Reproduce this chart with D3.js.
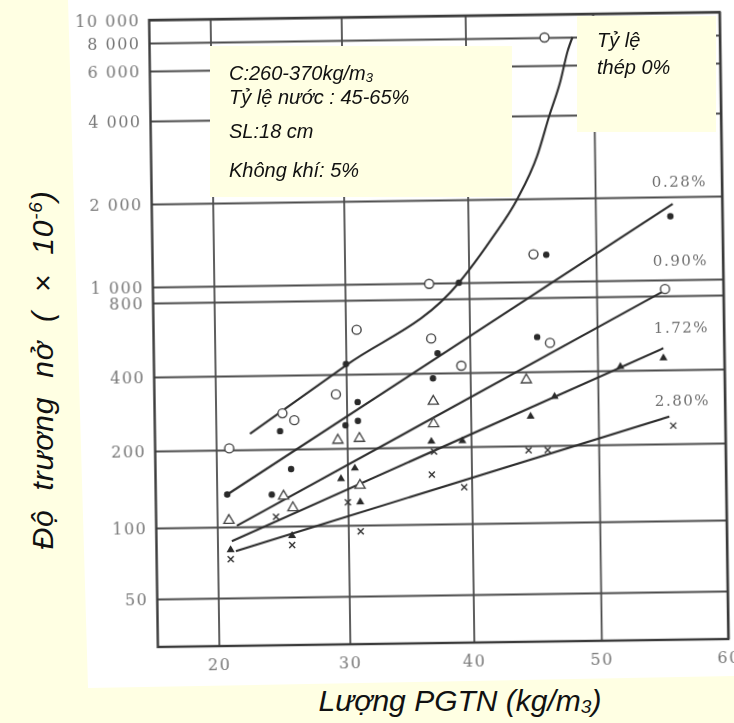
<!DOCTYPE html>
<html>
<head>
<meta charset="utf-8">
<script src="https://cdn.jsdelivr.net/npm/d3@7"></script>
<style>
  html, body { margin: 0; padding: 0; background: #FFFFE3; }
  svg { display: block; }
</style>
</head>
<body>
<svg id="chart" width="734" height="723"></svg>
<script>
// Độ trương nở theo lượng PGTN, với các tỷ lệ thép khác nhau

// trục hoành: lượng PGTN (kg/m3)
const xTicks = [20, 30, 40, 50, 60];
const xTickLabels = ["20", "30", "40", "50", "60"];
// trục tung: độ trương nở (×10^-6), thang logarit
const yTicks = [50, 100, 200, 400, 800, 1000, 2000, 4000, 6000, 8000, 10000];
const yTickLabels = ["50", "100", "200", "400", "800", "1 000", "2 000", "4 000", "6 000", "8 000", "10 000"];

// đường cong cho tỷ lệ thép 0%
const curve0X = [22.6, 30, 39.2, 41.8, 43.9, 45.5, 46.5, 47.4, 48.0, 48.4];
const curve0Y = [232, 435, 1000, 1430, 2000, 2860, 4000, 5270, 6930, 8000];

// đường thẳng cho các tỷ lệ thép còn lại (điểm đầu, điểm cuối)
const steelRatios = ["0.28%", "0.90%", "1.72%", "2.80%"];
const fitX = [[20.8, 56.1], [21.5, 55.6], [21.1, 55.2], [21.4, 55.6]];
const fitY = [[134, 1885], [101, 880], [87, 490], [79, 258]];

// điểm thí nghiệm, theo ký hiệu
const openCircles = [[21.0, 203], [25.1, 280], [26.0, 262], [29.2, 332], [30.9, 606], [36.8, 990],
  [36.9, 553], [39.3, 427], [45.1, 1257], [46.2, 8000], [46.3, 523], [55.4, 880]];
const filledDots = [[20.8, 134], [24.2, 133], [25.7, 167], [24.9, 237], [29.9, 248], [30.9, 258],
  [30.9, 308], [30.0, 440], [37.4, 481], [37.0, 381], [39.2, 1000], [45.3, 553], [46.1, 1250], [55.9, 1700]];
const openTriangles = [[20.9, 106], [25.1, 131], [25.8, 118], [29.3, 216], [31.0, 219], [37.0, 307],
  [37.0, 249], [44.4, 371], [31.0, 143]];
const filledTriangles = [[30.6, 167], [29.5, 152], [36.8, 211], [39.3, 211], [44.7, 263], [46.6, 316],
  [51.8, 415], [55.2, 447], [25.7, 91], [21.0, 80], [31.0, 123]];
const crosses = [[24.5, 109], [25.7, 83], [21.0, 73], [30.0, 123], [31.0, 94], [36.8, 156], [37.0, 192],
  [39.4, 139], [44.5, 192], [46.0, 192], [55.9, 237]];

const svg = d3.select("#chart");

// độ nhòe nhẹ của bản quét
svg.append("defs").append("filter").attr("id", "soft")
  .append("feGaussianBlur").attr("stdDeviation", 0.45);

// trang giấy quét (nền trắng)
svg.append("path").attr("d", "M68,0H734V676L88,688Z").attr("fill", "#ffffff");

// bản quét hơi nghiêng
const scan = svg.append("g")
  .attr("transform", "rotate(-0.8,440,330)")
  .attr("filter", "url(#soft)");

// thang đo: lưới in tay không đều, nên dùng thang từng đoạn
const x = d3.scaleLinear()
  .domain([15.3, ...xTicks])
  .range([153.5, 214.5, 345.5, 469.5, 597, 724]);
const y = d3.scaleLog()
  .domain([32, ...yTicks])
  .range([643, 595, 524, 447, 373, 299, 283, 200, 117, 67, 39, 16]);

const xr = x.range(), yr = y.range();
const plotLeft = xr[0], plotRight = xr[xr.length - 1];
const plotBottom = yr[0], plotTop = yr[yr.length - 1];

const gridColor = "#4d4d4d";
const tickFont = "'DejaVu Serif', serif";

// lưới ngang + nhãn trục tung
scan.append("g")
  .attr("transform", `translate(${plotLeft},0)`)
  .call(d3.axisLeft(y).tickValues(yTicks)
    .tickFormat((d, i) => yTickLabels[i])
    .tickSize(-(plotRight - plotLeft)).tickPadding(9))
  .call(g => g.select(".domain").remove())
  .call(g => g.selectAll(".tick line").attr("stroke", gridColor).attr("stroke-width", 1.8))
  .call(g => g.selectAll(".tick text")
    .attr("fill", "#777").style("font-family", tickFont)
    .style("font-size", "16px").style("letter-spacing", "1.5px"));

// lưới dọc + nhãn trục hoành
scan.append("g")
  .attr("transform", `translate(0,${plotBottom})`)
  .call(d3.axisBottom(x).tickValues(xTicks)
    .tickFormat((d, i) => xTickLabels[i])
    .tickSize(-(plotBottom - plotTop)).tickPadding(13))
  .call(g => g.select(".domain").remove())
  .call(g => g.selectAll(".tick line").attr("stroke", gridColor).attr("stroke-width", 1.8))
  .call(g => g.selectAll(".tick text")
    .attr("fill", "#777").style("font-family", tickFont)
    .style("font-size", "16px").style("letter-spacing", "1.5px"));

// khung
scan.append("rect")
  .attr("x", plotLeft).attr("y", plotTop)
  .attr("width", plotRight - plotLeft).attr("height", plotBottom - plotTop)
  .attr("fill", "none").attr("stroke", "#3a3a3a").attr("stroke-width", 2.4);

const lineColor = "#2e2e2e";

// đường cong 0%
scan.append("path")
  .datum(curve0X.map((v, i) => [v, curve0Y[i]]))
  .attr("fill", "none").attr("stroke", lineColor).attr("stroke-width", 2.1)
  .attr("d", d3.line().x(d => x(d[0])).y(d => y(d[1])).curve(d3.curveMonotoneX));

// các đường thẳng và nhãn tỷ lệ thép (nhãn đặt phía trên đầu mút đường)
const labelLift = [17, 23, 15, 11];
steelRatios.forEach((name, i) => {
  const pts = fitX[i].map((v, j) => [v, fitY[i][j]]);
  scan.append("path")
    .datum(pts)
    .attr("fill", "none").attr("stroke", lineColor).attr("stroke-width", 2.1)
    .attr("d", d3.line().x(d => x(d[0])).y(d => y(d[1])));
  const end = pts[pts.length - 1];
  scan.append("text")
    .attr("x", plotRight - 15).attr("y", y(end[1]) - labelLift[i])
    .attr("text-anchor", "end")
    .attr("fill", "#6e6e6e").style("font-family", tickFont)
    .style("font-size", "15px").style("letter-spacing", "1.5px")
    .text(name);
});

// ký hiệu điểm
const marks = scan.append("g");
marks.selectAll(".oc").data(openCircles).join("circle")
  .attr("cx", d => x(d[0])).attr("cy", d => y(d[1])).attr("r", 4.5)
  .attr("fill", "#fff").attr("stroke", "#444").attr("stroke-width", 1.4);
marks.selectAll(".fd").data(filledDots).join("circle")
  .attr("cx", d => x(d[0])).attr("cy", d => y(d[1])).attr("r", 3.2)
  .attr("fill", "#2a2a2a");
const tri = d3.symbol(d3.symbolTriangle);
marks.selectAll(".ot").data(openTriangles).join("path")
  .attr("transform", d => `translate(${x(d[0])},${y(d[1])})`)
  .attr("d", tri.size(45)())
  .attr("fill", "#fff").attr("stroke", "#444").attr("stroke-width", 1.3);
marks.selectAll(".ft").data(filledTriangles).join("path")
  .attr("transform", d => `translate(${x(d[0])},${y(d[1])})`)
  .attr("d", tri.size(28)())
  .attr("fill", "#2a2a2a");
marks.selectAll(".cr").data(crosses).join("path")
  .attr("transform", d => `translate(${x(d[0])},${y(d[1])})`)
  .attr("d", "M-3,-3L3,3M-3,3L3,-3")
  .attr("fill", "none").attr("stroke", "#333").attr("stroke-width", 1.4);

// hộp chú thích
const noteFont = "'Liberation Sans', Arial, sans-serif";
const boxFill = "#FFFFE3";
svg.append("rect").attr("x", 210).attr("y", 46).attr("width", 302).attr("height", 151).attr("fill", boxFill);
svg.append("rect").attr("x", 577).attr("y", 16).attr("width", 139).attr("height", 116).attr("fill", boxFill);

const note = svg.append("g")
  .style("font-family", noteFont).style("font-style", "italic")
  .style("font-size", "20px").attr("fill", "#111");
const t1 = note.append("text").attr("x", 229).attr("y", 80);
t1.append("tspan").text("C:260-370kg/m");
t1.append("tspan").attr("dy", 2).style("font-size", "13px").text("3");
note.append("text").attr("x", 229).attr("y", 104).text("Tỷ lệ nước : 45-65%");
note.append("text").attr("x", 229).attr("y", 138).text("SL:18 cm");
note.append("text").attr("x", 229).attr("y", 177).text("Không khí: 5%");
note.append("text").attr("x", 597).attr("y", 47).text("Tỷ lệ");
note.append("text").attr("x", 597).attr("y", 74).text("thép 0%");

// tiêu đề trục
const yt = svg.append("text")
  .attr("transform", "translate(53,370) rotate(-90)")
  .attr("text-anchor", "middle")
  .style("font-family", noteFont).style("font-style", "italic")
  .style("font-size", "30px").style("letter-spacing", "0.8px").style("word-spacing", "10px")
  .attr("fill", "#111");
yt.append("tspan").text("Độ trương nở ( × 10");
yt.append("tspan").attr("dy", -11).style("font-size", "19px").text("-6");
yt.append("tspan").attr("dy", 11).text(")");

const xt = svg.append("text")
  .attr("x", 460).attr("y", 711)
  .attr("text-anchor", "middle")
  .style("font-family", noteFont).style("font-style", "italic")
  .style("font-size", "30px").attr("fill", "#111");
xt.append("tspan").text("Lượng PGTN (kg/m");
xt.append("tspan").attr("dy", 2).style("font-size", "19px").text("3");
xt.append("tspan").attr("dy", -2).text(")");
</script>
</body>
</html>
